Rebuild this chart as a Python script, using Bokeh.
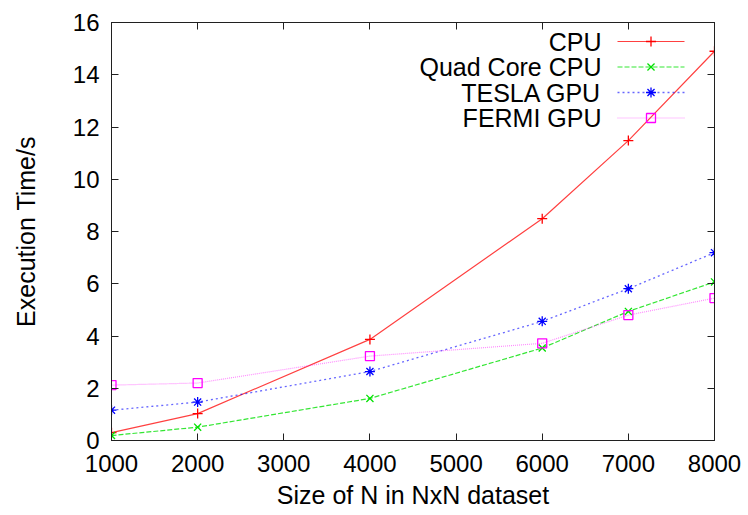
from bokeh.plotting import figure
from bokeh.models import LinearAxis, FixedTicker, Label, CustomLabelingPolicy
from bokeh.embed import file_html
from bokeh.resources import INLINE

sizes = [1000, 2000, 4000, 6000, 7000, 8000]
cpu = [0.3, 1.03, 3.87, 8.49, 11.48, 14.9]
quad = [0.19, 0.51, 1.61, 3.54, 4.94, 6.07]
tesla = [1.16, 1.47, 2.64, 4.56, 5.81, 7.19]
fermi = [2.12, 2.2, 3.23, 3.72, 4.8, 5.45]
series_names = ["CPU", "Quad Core CPU", "TESLA GPU", "FERMI GPU"]
x_ticks = [1000, 2000, 3000, 4000, 5000, 6000, 7000, 8000]
y_ticks = [0, 2, 4, 6, 8, 10, 12, 14, 16]

FONT = "Liberation Sans"
FS = "24px"
FS_BIG = "25px"

W, H = 748, 515
BL, BR, BT, BB = 111, 34, 22, 75
XR = (1000, 8000)
YR = (0, 16)

p = figure(width=W, height=H, x_range=XR, y_range=YR, output_backend="svg",
           toolbar_location=None, min_border_left=BL, min_border_right=BR,
           min_border_top=BT, min_border_bottom=BB, x_axis_type=None, y_axis_type=None)
p.grid.visible = False
p.outline_line_color = "#202020"
p.outline_line_width = 1
p.background_fill_color = "white"
p.border_fill_color = "white"

hide_all = CustomLabelingPolicy(code="""
for (const i of Array.from(indices)) { indices.unset(i) }
return indices
""")


def style_axis(ax, ticks, show_labels):
    ax.ticker = FixedTicker(ticks=ticks)
    ax.major_tick_in = 7
    ax.major_tick_out = 0
    ax.minor_tick_line_color = None
    ax.axis_line_color = "#202020"
    ax.major_tick_line_color = "#202020"
    ax.major_label_text_font = FONT
    ax.major_label_text_color = "black"
    ax.major_label_text_font_size = FS
    if not show_labels:
        ax.major_label_policy = hide_all
        ax.major_label_standoff = 0


xb = LinearAxis(axis_label="Size of N in NxN dataset")
style_axis(xb, x_ticks, True)
xb.major_label_standoff = 14
xb.axis_label_standoff = 6
xb.axis_label_text_font = FONT
xb.axis_label_text_font_size = FS_BIG
xb.axis_label_text_font_style = "normal"
xb.axis_label_text_color = "black"
p.add_layout(xb, "below")

yl = LinearAxis(axis_label="Execution Time/s")
style_axis(yl, y_ticks, True)
yl.major_label_standoff = 12
yl.axis_label_standoff = 30
yl.axis_label_text_font = FONT
yl.axis_label_text_font_size = FS_BIG
yl.axis_label_text_font_style = "normal"
yl.axis_label_text_color = "black"
p.add_layout(yl, "left")

xt = LinearAxis()
style_axis(xt, x_ticks, False)
p.add_layout(xt, "above")
yr = LinearAxis()
style_axis(yr, y_ticks, False)
p.add_layout(yr, "right")

styles = [
    dict(color="#ff0000", dash="solid", marker="cross", lw=1.2, alpha=0.75),
    dict(color="#00e000", dash="5 2", marker="x", lw=1.2, alpha=0.8),
    dict(color="#0000ff", dash="2 3", marker="asterisk", lw=1.3, alpha=0.6),
    dict(color="#ff00ff", dash="1 1", marker="square", lw=1.2, alpha=0.45),
]
data = [cpu, quad, tesla, fermi]

# legend geometry in canvas pixels, converted to data / frame coords
fw = W - BL - BR
fh = H - BT - BB
def px_to_x(px):
    return XR[0] + (px - BL) / fw * (XR[1] - XR[0])
def px_to_y(py):
    return YR[1] - (py - BT) / fh * (YR[1] - YR[0])

leg_rows = [41, 66.5, 92, 117.5]
leg_x0, leg_x1, leg_xm = 617, 684, 650.5
leg_text_right = 601

for name, ys, st, ry in zip(series_names, data, styles, leg_rows):
    p.line(sizes, ys, line_color=st["color"], line_dash=st["dash"],
           line_width=st["lw"], line_alpha=st["alpha"])
    if st["marker"] == "square":
        p.scatter(sizes, ys, marker="square", size=9, fill_color=None,
                  line_color=st["color"], line_width=1.3)
    else:
        p.scatter(sizes, ys, marker=st["marker"], size=10,
                  line_color=st["color"], line_width=1.3)
    ly = px_to_y(ry)
    p.line([px_to_x(leg_x0), px_to_x(leg_x1)], [ly, ly], line_color=st["color"],
           line_dash=st["dash"], line_width=st["lw"], line_alpha=st["alpha"])
    if st["marker"] == "square":
        p.scatter([px_to_x(leg_xm)], [ly], marker="square", size=9, fill_color=None,
                  line_color=st["color"], line_width=1.3)
    else:
        p.scatter([px_to_x(leg_xm)], [ly], marker=st["marker"], size=10,
                  line_color=st["color"], line_width=1.3)
    p.add_layout(Label(x=leg_text_right - BL, y=fh - (ry - BT), x_units="screen",
                       y_units="screen", text=name, text_font=FONT,
                       text_font_size=FS_BIG, text_align="right",
                       text_baseline="middle", text_color="black"))

open("out.html", "w").write(file_html(p, INLINE))
